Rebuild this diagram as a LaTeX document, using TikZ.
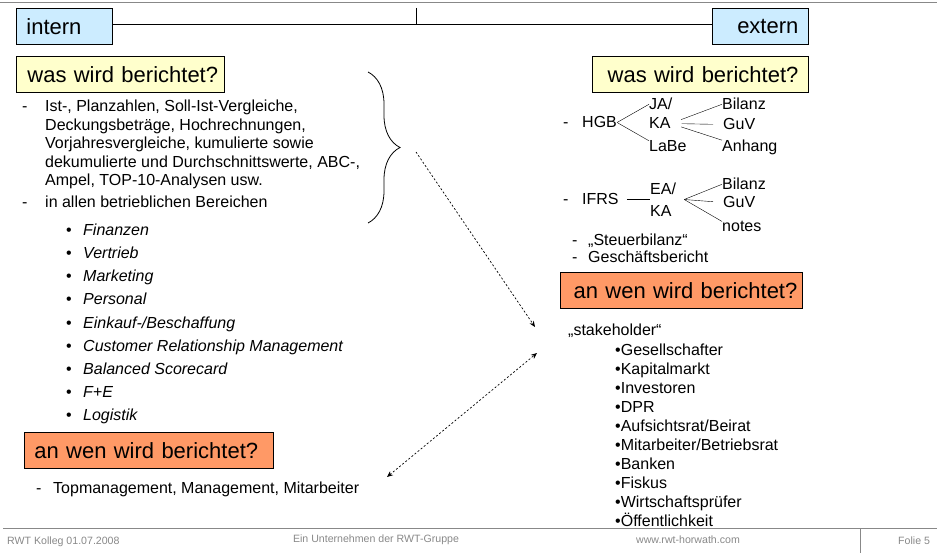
\documentclass[tikz,border=0pt]{standalone}
\usepackage{fontspec}
\setmainfont{Liberation Sans}
\usetikzlibrary{arrows.meta,decorations.pathreplacing}
\definecolor{sideblue}{RGB}{204,236,255}
\definecolor{askyellow}{RGB}{255,255,204}
\definecolor{whoorange}{RGB}{255,153,102}
\definecolor{footgray}{RGB}{136,136,136}

\begin{document}
\begin{tikzpicture}[x=1pt,y=-1pt,>={Stealth[length=6pt,width=5pt]},
  head/.style={draw,line width=0.8pt,minimum height=36pt,inner ysep=0pt,inner xsep=10pt,
    anchor=north west,font=\fontsize{22}{26}\selectfont},
  txt/.style={anchor=base west,inner sep=0pt,font=\fontsize{16}{18}\selectfont},
  itm/.style={txt,font=\fontsize{16}{18}\selectfont\itshape},
  foot/.style={anchor=base,inner sep=0pt,text=footgray,font=\fontsize{10.6}{12}\selectfont},
  link/.style={line width=0.7pt,dash pattern=on 2pt off 2pt}]
\useasboundingbox (0,0) rectangle (937,553);

\draw[footgray,line width=1pt] (0,3) -- (937,3);
\node[head,fill=sideblue,text width=76pt,align=left] (intern) at (16,8) {intern};
\node[head,fill=sideblue,text width=76pt,align=right] (extern) at (712,8) {extern};
\coordinate (railL) at ([yshift=2pt]intern.east);
\coordinate (railR) at ([yshift=2pt]extern.west);
\draw (railL) -- (railR);
\coordinate (mid) at (416,8);
\draw (mid) -- (mid |- railL);

\node[head,fill=askyellow,text width=200pt,inner xsep=4pt,align=left] (askint) at (16,56) {\hspace*{7pt}was wird berichtet?};
\node[head,fill=askyellow,text width=196pt,align=right] (askext) at (592,56) {was wird berichtet?};

\node[txt] (d1) at (22,112) {-};
\foreach \ln [count=\i] in {{Ist-, Planzahlen, Soll-Ist-Vergleiche,},{Deckungsbeträge, Hochrechnungen,},
    {Vorjahresvergleiche, kumulierte sowie},{dekumulierte und Durchschnittswerte, ABC-,},
    {Ampel, TOP-10-Analysen usw.}}{
  \node[txt] (w\i) at (45,93.6+18.4*\i) {\ln};
}
\node[txt] (d2) at (22,208) {-};
\node[txt] (areas) at (45,208) {in allen betrieblichen Bereichen};
\foreach \lbl [count=\i] in {Finanzen,Vertrieb,Marketing,Personal,Einkauf-/Beschaffung,
    Customer Relationship Management,Balanced Scorecard,F+E,Logistik}{
  \node[txt] (b\i) at (66,213+23*\i) {•};
  \node[itm] (i\i) at (83,213+23*\i) {\lbl};
}

\coordinate (bracetop) at (368,72);
\coordinate (bracebot) at (368,223);
\draw[line width=0.8pt,decorate,decoration={brace,amplitude=32pt}] (bracetop) -- (bracebot);

\node[head,fill=whoorange,text width=229pt,align=left] (whoint) at (24,432) {an wen wird berichtet?};
\node[txt] (d3) at (36,493) {-};
\node[txt] (staff) at (53,493) {Topmanagement, Management, Mitarbeiter};

\node[txt] (d4) at (563,128) {-};
\node[txt] (hgb) at (582,128) {HGB};
\node[txt] (ja) at (649,110) {JA/};
\node[txt] (ka) at (649,129) {KA};
\node[txt] (labe) at (649,152) {LaBe};
\node[txt] (bil1) at (722,110) {Bilanz};
\node[txt] (guv1) at (723,130) {GuV};
\node[txt] (anh1) at (722,152) {Anhang};
\draw (hgb.east) -- (ja.west);
\draw (hgb.east) -- (labe.north west);
\draw[shorten <=11pt] (ka.east) -- (bil1.west);
\draw[shorten <=11pt,shorten >=10pt] (ka.east) -- (guv1.west);
\draw[shorten <=11pt] (ka.east) -- (anh1.north west);

\node[txt] (d5) at (563,205) {-};
\node[txt] (ifrs) at (582,205) {IFRS};
\node[txt] (ea) at (650,195) {EA/};
\node[txt] (ka2) at (650,217) {KA};
\node[txt] (bil2) at (722,190) {Bilanz};
\node[txt] (guv2) at (723,208) {GuV};
\node[txt] (notes) at (722,232) {notes};
\coordinate (fork) at ([xshift=8pt]ifrs.east -| ea.east);
\draw[shorten <=8pt] (ifrs.east) -- (ifrs.east -| ea.west);
\draw (fork) -- (bil2.west);
\draw[shorten >=10pt] (fork) -- (guv2.west);
\draw (fork) -- (notes.north west);

\node[txt] (d6) at (572,246) {-};
\node[txt] (tax) at (588,246) {„Steuerbilanz“};
\node[txt] (d7) at (572,263) {-};
\node[txt] (report) at (588,263) {Geschäftsbericht};

\node[head,fill=whoorange,text width=232pt,inner xsep=5pt,align=right] (whoext) at (560,272) {an wen wird berichtet?};
\node[txt] (stake) at (568,335) {„stakeholder“};
\foreach \lbl [count=\i] in {Gesellschafter,Kapitalmarkt,Investoren,DPR,Aufsichtsrat/Beirat,
    Mitarbeiter/Betriebsrat,Banken,Fiskus,Wirtschaftsprüfer,Öffentlichkeit}{
  \node[txt] (s\i) at (615,336+19*\i) {•\lbl};
}

\coordinate (l1a) at (416,152);
\coordinate (l1b) at (535,327);
\coordinate (l2a) at (387,477);
\coordinate (l2b) at (537,353);
\draw[link,->] (l1a) -- (l1b);
\draw[link,<->] (l2a) -- (l2b);

\draw[footgray,line width=1pt] (3,528) -- (937,528);
\draw[footgray,line width=1pt] (860,528) -- (860,553);
\node[foot,anchor=base west] (f1) at (7,544) {RWT Kolleg 01.07.2008};
\node[foot] (f2) at (376,542) {Ein Unternehmen der RWT-Gruppe};
\node[foot] (f3) at (688,543) {www.rwt-horwath.com};
\node[foot,anchor=base west] (f4) at (898,544) {Folie 5};
\end{tikzpicture}
\end{document}
